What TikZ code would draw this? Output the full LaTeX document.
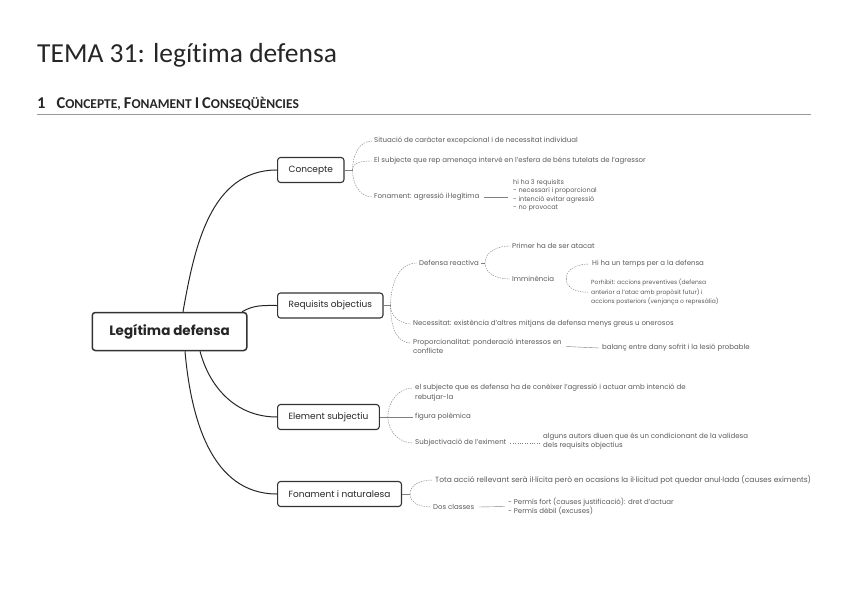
\documentclass[tikz,border=0pt]{standalone}
\usepackage{fontspec}
\setmainfont{Poppins}
\newfontfamily\docfont[Ligatures=NoCommon]{Carlito}
\usetikzlibrary{positioning}
\newcommand{\headcap}[1]{{\fontsize{16.5}{17}\selectfont #1}}

\begin{document}
\begin{tikzpicture}[x=1pt,y=1pt,
	topic/.style={draw=black!80,line width=1.1pt,rounded corners=3pt,fill=white,text=black!85,font=\fontsize{9}{11}\selectfont,inner xsep=11pt,minimum height=25pt},
	root/.style={topic,line width=1.5pt,font=\fontsize{13.5}{15}\selectfont\bfseries,inner xsep=17pt,minimum height=38pt},
	leaf/.style={font=\fontsize{7}{9.5}\selectfont,text=black!65,inner sep=0pt,align=left,anchor=west},
	small/.style={font=\fontsize{6.5}{8.5}\selectfont},
	tiny/.style={font=\fontsize{6}{9.5}\selectfont},
	branch/.style={draw=black!85,line width=1pt},
	twig/.style={draw=black!50,line width=0.4pt,dash pattern=on 1.5pt off 1pt},
	stem/.style={draw=black!50,line width=0.4pt}]
	\useasboundingbox (0,0) rectangle (848,-599);
	% heading
	\node[anchor=base west,inner sep=0pt,text=black!85,font=\docfont\fontsize{27.5}{30}\selectfont] (title) at (37,-63) {TEMA 31: legítima defensa};
	\node[anchor=base west,inner sep=0pt,text=black!85,font=\docfont\bfseries\fontsize{13.5}{14}\selectfont] (head) at (37,-109)
		{\headcap{1}\hspace{11pt}\headcap{C}ONCEPTE, \headcap{F}ONAMENT \headcap{I} \headcap{C}ONSEQÜÈNCIES};
	\draw[black!40,line width=0.6pt] (37,-114) -- (811,-114);
	% main topics
	\node[root] (lg) at (169.5,-331.5) {Legítima defensa};
	\node[topic,anchor=west] (con) at (277,-170) {Concepte};
	\node[topic,anchor=west] (req) at (277,-305.5) {Requisits objectius};
	\node[topic,anchor=west] (ele) at (277,-417) {Element subjectiu};
	\node[topic,anchor=west] (fnt) at (277,-494) {Fonament i naturalesa};
	\draw[branch] ([xshift=13.5pt]lg.north) to[out=80,in=180] (con.west);
	\draw[branch] ([xshift=72.5pt]lg.north) to[out=30,in=180] (req.west);
	\draw[branch] ([xshift=30.5pt]lg.south) to[out=-75,in=180] (ele.west);
	\draw[branch] ([xshift=15.5pt]lg.south) to[out=-85,in=180] (fnt.west);
	% Concepte
	\coordinate (conh) at ([xshift=8pt]con.east);
	\node[leaf] (sit) at (374,-141) {Situació de caràcter excepcional i de necessitat individual};
	\node[leaf] (subj) at (374,-161) {El subjecte que rep amenaça intervé en l'esfera de béns tutelats de l'agressor};
	\node[leaf] (fon) at (374,-197) {Fonament: agressió il·legítima};
	\node[leaf,small,anchor=north west] (fonl) at (513,-179) {hi ha 3 requisits\\- necessari i proporcional\\- intenció evitar agressió\\- no provocat};
	\draw[stem] (con.east) -- (conh);
	\draw[twig] (conh) to[out=90,in=180] ([xshift=-2pt]sit.west);
	\draw[twig] (conh) to[out=90,in=180] ([xshift=-2pt]subj.west);
	\draw[twig] (conh) to[out=-90,in=180] ([xshift=-2pt]fon.west);
	\draw[stem] ([xshift=4pt]fon.east) -- ([xshift=-5pt]fon.east -| fonl.west);
	% Requisits objectius
	\coordinate (reqh) at ([xshift=7pt]req.east);
	\node[leaf] (def) at (419,-263) {Defensa reactiva};
	\node[leaf] (nec) at (413,-324) {Necessitat: existència d'altres mitjans de defensa menys greus u onerosos};
	\node[leaf,anchor=north west,font=\fontsize{7}{9}\selectfont] (pro) at (413,-339) {Proporcionalitat: ponderació interessos en\\conflicte};
	\node[leaf] (bal) at (602,-348) {balanç entre dany sofrit i la lesió probable};
	\draw[stem] (req.east) -- (reqh);
	\draw[twig] (reqh) to[out=90,in=180] ([xshift=-2pt]def.west);
	\draw[twig] (reqh) to[out=-90,in=180] ([xshift=-2pt]nec.west);
	\draw[twig] (reqh) to[out=-90,in=180] ([xshift=-2pt,yshift=-4pt]pro.north west);
	\draw[stem] ([xshift=4pt]pro.east) -- ([xshift=-3pt]bal.west);
	\coordinate (defh) at ([xshift=6pt]def.east);
	\node[leaf] (prim) at (512,-246) {Primer ha de ser atacat};
	\node[leaf] (imm) at (512,-279) {Imminència};
	\draw[stem] ([xshift=2pt]def.east) -- (defh);
	\draw[twig] (defh) to[out=90,in=180] ([xshift=-2pt]prim.west);
	\draw[twig] (defh) to[out=-90,in=180] ([xshift=-2pt]imm.west);
	\coordinate (immh) at ([xshift=12pt]imm.east);
	\node[leaf] (tmp) at (592,-264) {Hi ha un temps per a la defensa};
	\node[leaf,tiny,anchor=north west] (proh) at (591,-279) {Porhibit: accions preventives (defensa\\anterior a l'atac amb propòsit futur) i\\accions posteriors (venjança o represàlia)};
	\draw[twig] (immh) to[out=90,in=180] ([xshift=-3pt]tmp.west);
	\draw[twig] (immh) to[out=-90,in=180] ([xshift=-3pt]proh.west);
	% Element subjectiu
	\coordinate (eleh) at ([xshift=8pt]ele.east);
	\node[leaf,anchor=north west] (conx) at (415,-384) {el subjecte que es defensa ha de conèixer l'agressió i actuar amb intenció de\\rebutjar-la};
	\node[leaf] (pol) at (415,-417) {figura polèmica};
	\node[leaf] (sbj) at (415,-443) {Subjectivació de l'eximent};
	\node[leaf,font=\fontsize{7}{9}\selectfont] (aut) at (543,-441.5) {alguns autors diuen que és un condicionant de la validesa\\dels requisits objectius};
	\draw[stem] (ele.east) -- ([xshift=-2pt]pol.west);
	\draw[twig] (eleh) to[out=90,in=180] ([xshift=-2pt,yshift=-4pt]conx.north west);
	\draw[twig] (eleh) to[out=-90,in=180] ([xshift=-2pt]sbj.west);
	\draw[stem,dotted] ([xshift=4pt]sbj.east) -- ([xshift=-3pt]sbj.east -| aut.west);
	% Fonament i naturalesa
	\coordinate (fnth) at ([xshift=8pt]fnt.east);
	\node[leaf,font=\fontsize{7.5}{9}\selectfont] (tot) at (435,-480) {Tota acció rellevant serà il·lícita però en ocasions la il·licitud pot quedar anul·lada (causes eximents)};
	\node[leaf] (dos) at (433,-507) {Dos classes};
	\node[leaf,font=\fontsize{7}{8}\selectfont] (perm) at (508,-506.5) {- Permís fort (causes justificació): dret d'actuar\\- Permís dèbil (excuses)};
	\draw[stem] (fnt.east) -- (fnth);
	\draw[twig] (fnth) to[out=90,in=180] ([xshift=-2pt]tot.west);
	\draw[twig] (fnth) to[out=-90,in=180] ([xshift=-2pt]dos.west);
	\draw[stem] ([xshift=4pt]dos.east) -- ([xshift=-3pt]perm.west);
\end{tikzpicture}
\end{document}
